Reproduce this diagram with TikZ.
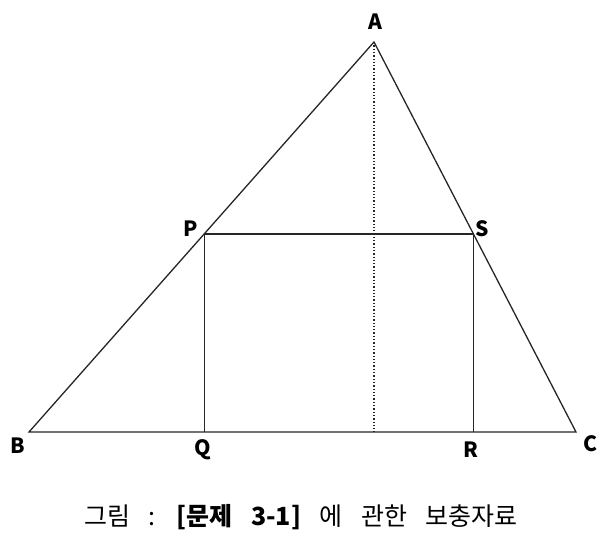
\documentclass[tikz,border=0pt]{standalone}
\usepackage{fontspec}
\setmainfont[WordSpace=3.3]{Noto Sans CJK KR}
\usetikzlibrary{calc}
\tikzset{
  edge/.style={line width=1.3pt, black!85},
  pointlabel/.style={font=\fontsize{21}{21}\selectfont\bfseries, inner sep=0pt}
}
\begin{document}
\begin{tikzpicture}[x=1pt,y=-1pt]
        \useasboundingbox (0,0) rectangle (612,546);
        \coordinate (A) at (374,42);
        \coordinate (B) at (29,432);
        \coordinate (C) at (576,432);
        \coordinate (P) at ($(A)!0.492!(B)$);
        \coordinate (S) at ($(A)!0.492!(C)$);
        \coordinate (Q) at (P |- B);
        \coordinate (R) at (S |- B);
        \coordinate (H) at (A |- B);
        \draw[edge] (A) -- (B) -- (C) -- cycle;
        \draw[edge] (P) -- (Q);
        \draw[edge] (S) -- (R);
        \draw[edge] (P) -- (S);
        \draw[edge, dotted] (A) -- (H);
        \node[pointlabel] (labA) at (375,22) {A};
        \node[pointlabel] (labB) at (18,446) {B};
        \node[pointlabel] (labC) at (590,444) {C};
        \node[pointlabel] (labP) at (191,229) {P};
        \node[pointlabel] (labS) at (482,229) {S};
        \node[pointlabel] (labQ) at (203,450) {Q};
        \node[pointlabel] (labR) at (471,450) {R};
        \node[font=\fontsize{25}{25}\selectfont, inner sep=0pt] (caption) at (301,517)
            {그림 : \textbf{[문제 3-1]} 에 관한 보충자료};
    \end{tikzpicture}
\end{document}
